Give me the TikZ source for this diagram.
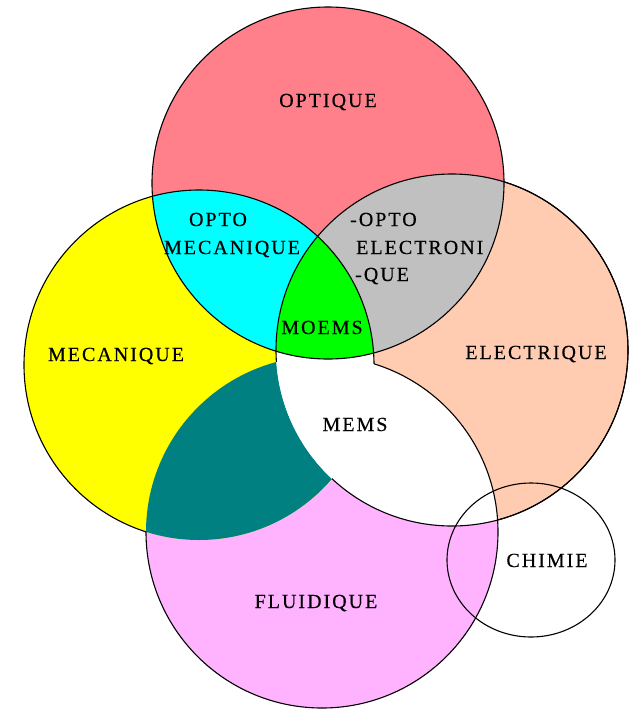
\documentclass[tikz,border=0pt]{standalone}
\usepackage{fontspec}
\setmainfont{Liberation Serif}[LetterSpace=10,FakeBold=0.4]
\definecolor{pinkO}{RGB}{255,128,138}
\definecolor{peachE}{RGB}{255,204,178}
\definecolor{violetF}{RGB}{255,179,255}
\definecolor{yellowM}{RGB}{255,255,0}
\definecolor{tealMF}{RGB}{0,128,128}
\definecolor{cyanOM}{RGB}{0,255,255}
\definecolor{grayOE}{RGB}{192,192,192}
\definecolor{greenOME}{RGB}{0,255,0}
\begin{document}
\begin{tikzpicture}[x=1pt,y=-1pt,
  outl/.style={draw=black, line width=1.1pt},
  lbl/.style={font=\fontsize{20}{22}\selectfont, inner sep=0pt, anchor=base},
  lblw/.style={font=\fontsize{20}{22}\selectfont, inner sep=0pt, anchor=base west}]
\useasboundingbox (0,0) rectangle (632,710);
\fill[white] (0,0) rectangle (632,710);
\coordinate (cO) at (328,183);
\coordinate (cM) at (199,365);
\coordinate (cE) at (452,350);
\coordinate (cF) at (322,532);
\coordinate (cC) at (531,560);
% base fills
\fill[violetF] (cF) circle[radius=176pt];
\fill[yellowM] (cM) circle[radius=175pt];
\fill[peachE] (cE) circle[radius=176pt];
% teal: M and F
\begin{scope}
  \clip (cM) circle[radius=175pt];
  \clip (cF) circle[radius=176pt];
  \fill[tealMF] (0,0) rectangle (632,710);
\end{scope}
% white MEMS: E and (M or F)
\begin{scope}
  \clip (cE) circle[radius=176pt];
  \fill[white] (cM) circle[radius=175pt];
  \fill[white] (cF) circle[radius=176pt];
\end{scope}
% outlines outside optique
\begin{scope}[even odd rule]
  \clip (-20,-20) rectangle (660,740) (cF) circle[radius=176pt];
  \draw[outl] (cM) circle[radius=175pt];
  \draw[outl] (cE) circle[radius=176pt];
\end{scope}
\begin{scope}[even odd rule]
  \clip (-20,-20) rectangle (660,740) (cM) circle[radius=175pt];
  \draw[outl] (cF) circle[radius=176pt];
  \draw[outl] (cE) circle[radius=176pt];
\end{scope}
% optique and its intersections
\fill[pinkO] (cO) circle[radius=176pt];
\begin{scope}
  \clip (cO) circle[radius=176pt];
  \fill[cyanOM] (cM) circle[radius=175pt];
  \fill[grayOE] (cE) circle[radius=176pt];
  \clip (cM) circle[radius=175pt];
  \fill[greenOME] (cE) circle[radius=176pt];
\end{scope}
\begin{scope}
  \clip (cO) circle[radius=176pt];
  \draw[outl] (cM) circle[radius=175pt];
  \draw[outl] (cE) circle[radius=176pt];
\end{scope}
\draw[outl] (cO) circle[radius=176pt];
% chimie
\draw[outl] (cC) ellipse[x radius=84pt, y radius=77pt];
% labels
\node[lbl] (tO) at (328,107) {OPTIQUE};
\node[lbl] (tM) at (116,361) {MECANIQUE};
\node[lbl] (tE) at (536,359) {ELECTRIQUE};
\node[lbl] (tMEMS) at (355,431) {MEMS};
\node[lbl] (tF) at (316,608) {FLUIDIQUE};
\node[lbl] (tC) at (547,567) {CHIMIE};
\node[lbl] (tOM1) at (218,226) {OPTO};
\node[lbl] (tOM2) at (232,254) {MECANIQUE};
\node[lblw] (tOE1) at (350,226) {-OPTO};
\node[lblw] (tOE2) at (356,254) {ELECTRONI};
\node[lblw] (tOE3) at (355,281) {-QUE};
\node[lbl] (tMOEMS) at (322,334) {MOEMS};
\end{tikzpicture}
\end{document}
